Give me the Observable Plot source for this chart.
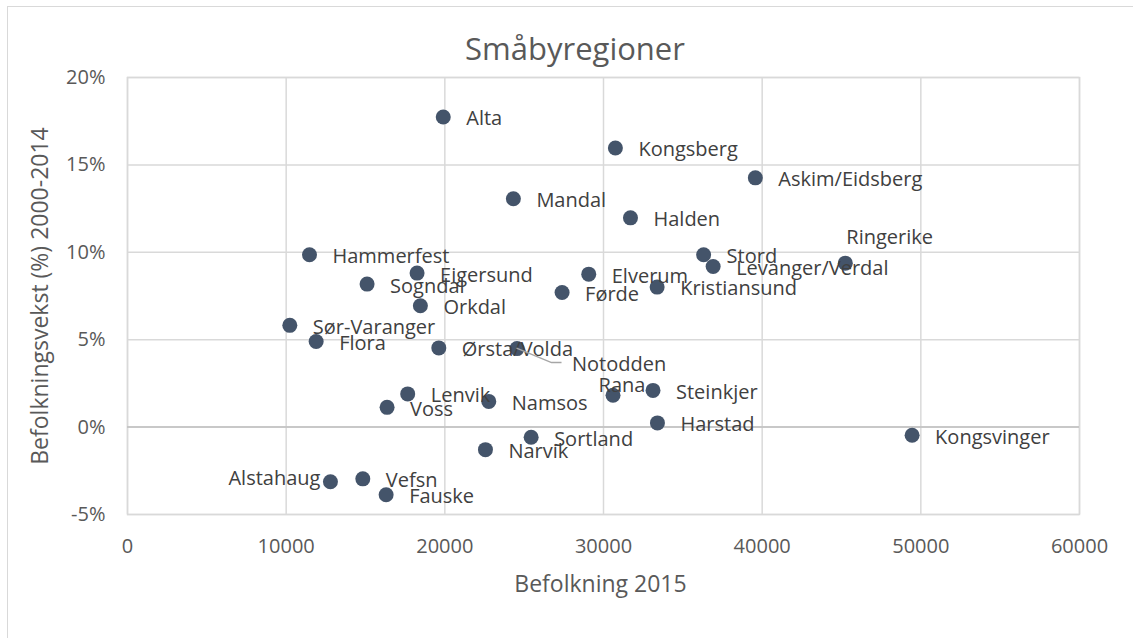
<!DOCTYPE html>
<html>
<head>
<meta charset="utf-8">
<script src="https://cdn.jsdelivr.net/npm/d3@7"></script>
<script src="https://cdn.jsdelivr.net/npm/@observablehq/plot@0.6"></script>
<style>
  html, body { margin: 0; padding: 0; background: #fff; overflow: hidden; }
  #wrap { position: relative; width: 1133px; height: 638px; overflow: hidden; background: #fff; }
  #border { position: absolute; left: 7px; top: 6px; width: 1200px; height: 700px; border-top: 1.5px solid #d9d9d9; border-left: 1.5px solid #d9d9d9; }
  #title { position: absolute; left: 575px; top: 33px; transform: translateX(-50%); font-family: "Open Sans", sans-serif; font-size: 31px; color: #595959; white-space: nowrap; line-height: 1; }
  #chart { position: absolute; left: 0; top: 0; }
</style>
</head>
<body>
<div id="wrap">
  <div id="chart"></div>
  <div id="border"></div>
  <div id="title">Småbyregioner</div>
</div>
<script>
// ---- data ----
const names = ["Alta","Kongsberg","Askim/Eidsberg","Mandal","Halden","Hammerfest","Eigersund","Sogndal","Orkdal","Sør-Varanger","Flora","Ørsta/Volda","Notodden","Førde","Elverum","Stord","Levanger/Verdal","Kristiansund","Ringerike","Lenvik","Voss","Namsos","Rana","Steinkjer","Harstad","Sortland","Narvik","Vefsn","Fauske","Alstahaug","Kongsvinger"];
const population2015 = [19900, 30750, 39570, 24320, 31700, 11470, 18250, 15100, 18460, 10230, 11890, 19620, 24550, 27390, 29070, 36310, 36910, 33380, 45240, 17660, 16360, 22770, 30600, 33120, 33400, 25440, 22560, 14830, 16300, 12790, 49450];
const growth2000_2014 = [0.1774, 0.1597, 0.1426, 0.1306, 0.1197, 0.0986, 0.0881, 0.0818, 0.0694, 0.0582, 0.0490, 0.0453, 0.0449, 0.0770, 0.0875, 0.0986, 0.0919, 0.0801, 0.0938, 0.0190, 0.0113, 0.0147, 0.0182, 0.0210, 0.0024, -0.0058, -0.0129, -0.0296, -0.0387, -0.0313, -0.0047];
const xTicks = [0, 10000, 20000, 30000, 40000, 50000, 60000];
const yTicks = [-0.05, 0, 0.05, 0.10, 0.15, 0.20];
const chartTitle = "Småbyregioner";
const xTitle = "Befolkning 2015";
const yTitle = "Befolkningsvekst (%) 2000-2014";

const rows = names.map((n, i) => ({name: n, pop: population2015[i], growth: growth2000_2014[i]}));
const special = new Set(["Ringerike", "Rana", "Alstahaug", "Notodden"]);

const dotColor = "#44546A";
const labelColor = "#404040";
const gridColor = "#d9d9d9";
const font = "Open Sans";

const chart = Plot.plot({
  width: 1133,
  height: 638,
  marginLeft: 127,
  marginRight: 54,
  marginTop: 77,
  marginBottom: 124,
  style: {fontFamily: font, fontSize: "20px", color: "#595959", background: "transparent", overflow: "visible"},
  x: {domain: [0, 60000], ticks: xTicks, tickFormat: d => String(d), tickSize: 0, tickPadding: 24, label: null},
  y: {domain: [-0.05, 0.20], ticks: yTicks, tickFormat: d => Math.round(d * 100) + "%", tickSize: 0, tickPadding: 22, label: null},
  marks: [
    Plot.gridX(xTicks, {stroke: gridColor, strokeOpacity: 1, strokeWidth: 1.5}),
    Plot.gridY(yTicks, {stroke: gridColor, strokeOpacity: 1, strokeWidth: 1.5}),
    Plot.frame({stroke: gridColor, strokeWidth: 1.5}),
    Plot.ruleY([0], {stroke: "#bfbfbf", strokeWidth: 1.5}),
    Plot.dot(rows, {x: "pop", y: "growth", r: 7.5, fill: dotColor, stroke: "none"}),
    Plot.text(rows.filter(d => !special.has(d.name)), {x: "pop", y: "growth", text: "name", textAnchor: "start", dx: 23, dy: 2, fill: labelColor, fontSize: 20}),
    Plot.text(rows.filter(d => d.name === "Ringerike"), {x: "pop", y: "growth", text: "name", textAnchor: "start", dx: 1, dy: -26, fill: labelColor, fontSize: 20}),
    Plot.text(rows.filter(d => d.name === "Rana"), {x: "pop", y: "growth", text: "name", textAnchor: "middle", dx: 9, dy: -10, fill: labelColor, fontSize: 20}),
    Plot.text(rows.filter(d => d.name === "Alstahaug"), {x: "pop", y: "growth", text: "name", textAnchor: "end", dx: -10, dy: -3, fill: labelColor, fontSize: 20}),
    Plot.text(rows.filter(d => d.name === "Notodden"), {x: "pop", y: "growth", text: "name", textAnchor: "start", dx: 55, dy: 16, fill: labelColor, fontSize: 20}),
    Plot.text([yTitle], {frameAnchor: "left", textAnchor: "middle", dx: -87, rotate: -90, fill: "#595959", fontSize: 23}),
    Plot.text([xTitle], {frameAnchor: "bottom", textAnchor: "middle", dx: -3, dy: 77, fill: "#595959", fontSize: 23})
  ]
});
document.getElementById("chart").appendChild(chart);
document.getElementById("title").textContent = chartTitle;

// leader line for Notodden, positioned via the chart's own scales
const sx = chart.scale("x"), sy = chart.scale("y");
const nd = rows.find(d => d.name === "Notodden");
const px = sx.apply(nd.pop), py = sy.apply(nd.growth);
d3.select(chart).append("path")
  .attr("d", `M${px},${py}L${px + 35},${py + 14.5}L${px + 45},${py + 14.5}`)
  .attr("fill", "none").attr("stroke", "#a6a6a6").attr("stroke-width", 1.5);
</script>
</body>
</html>
